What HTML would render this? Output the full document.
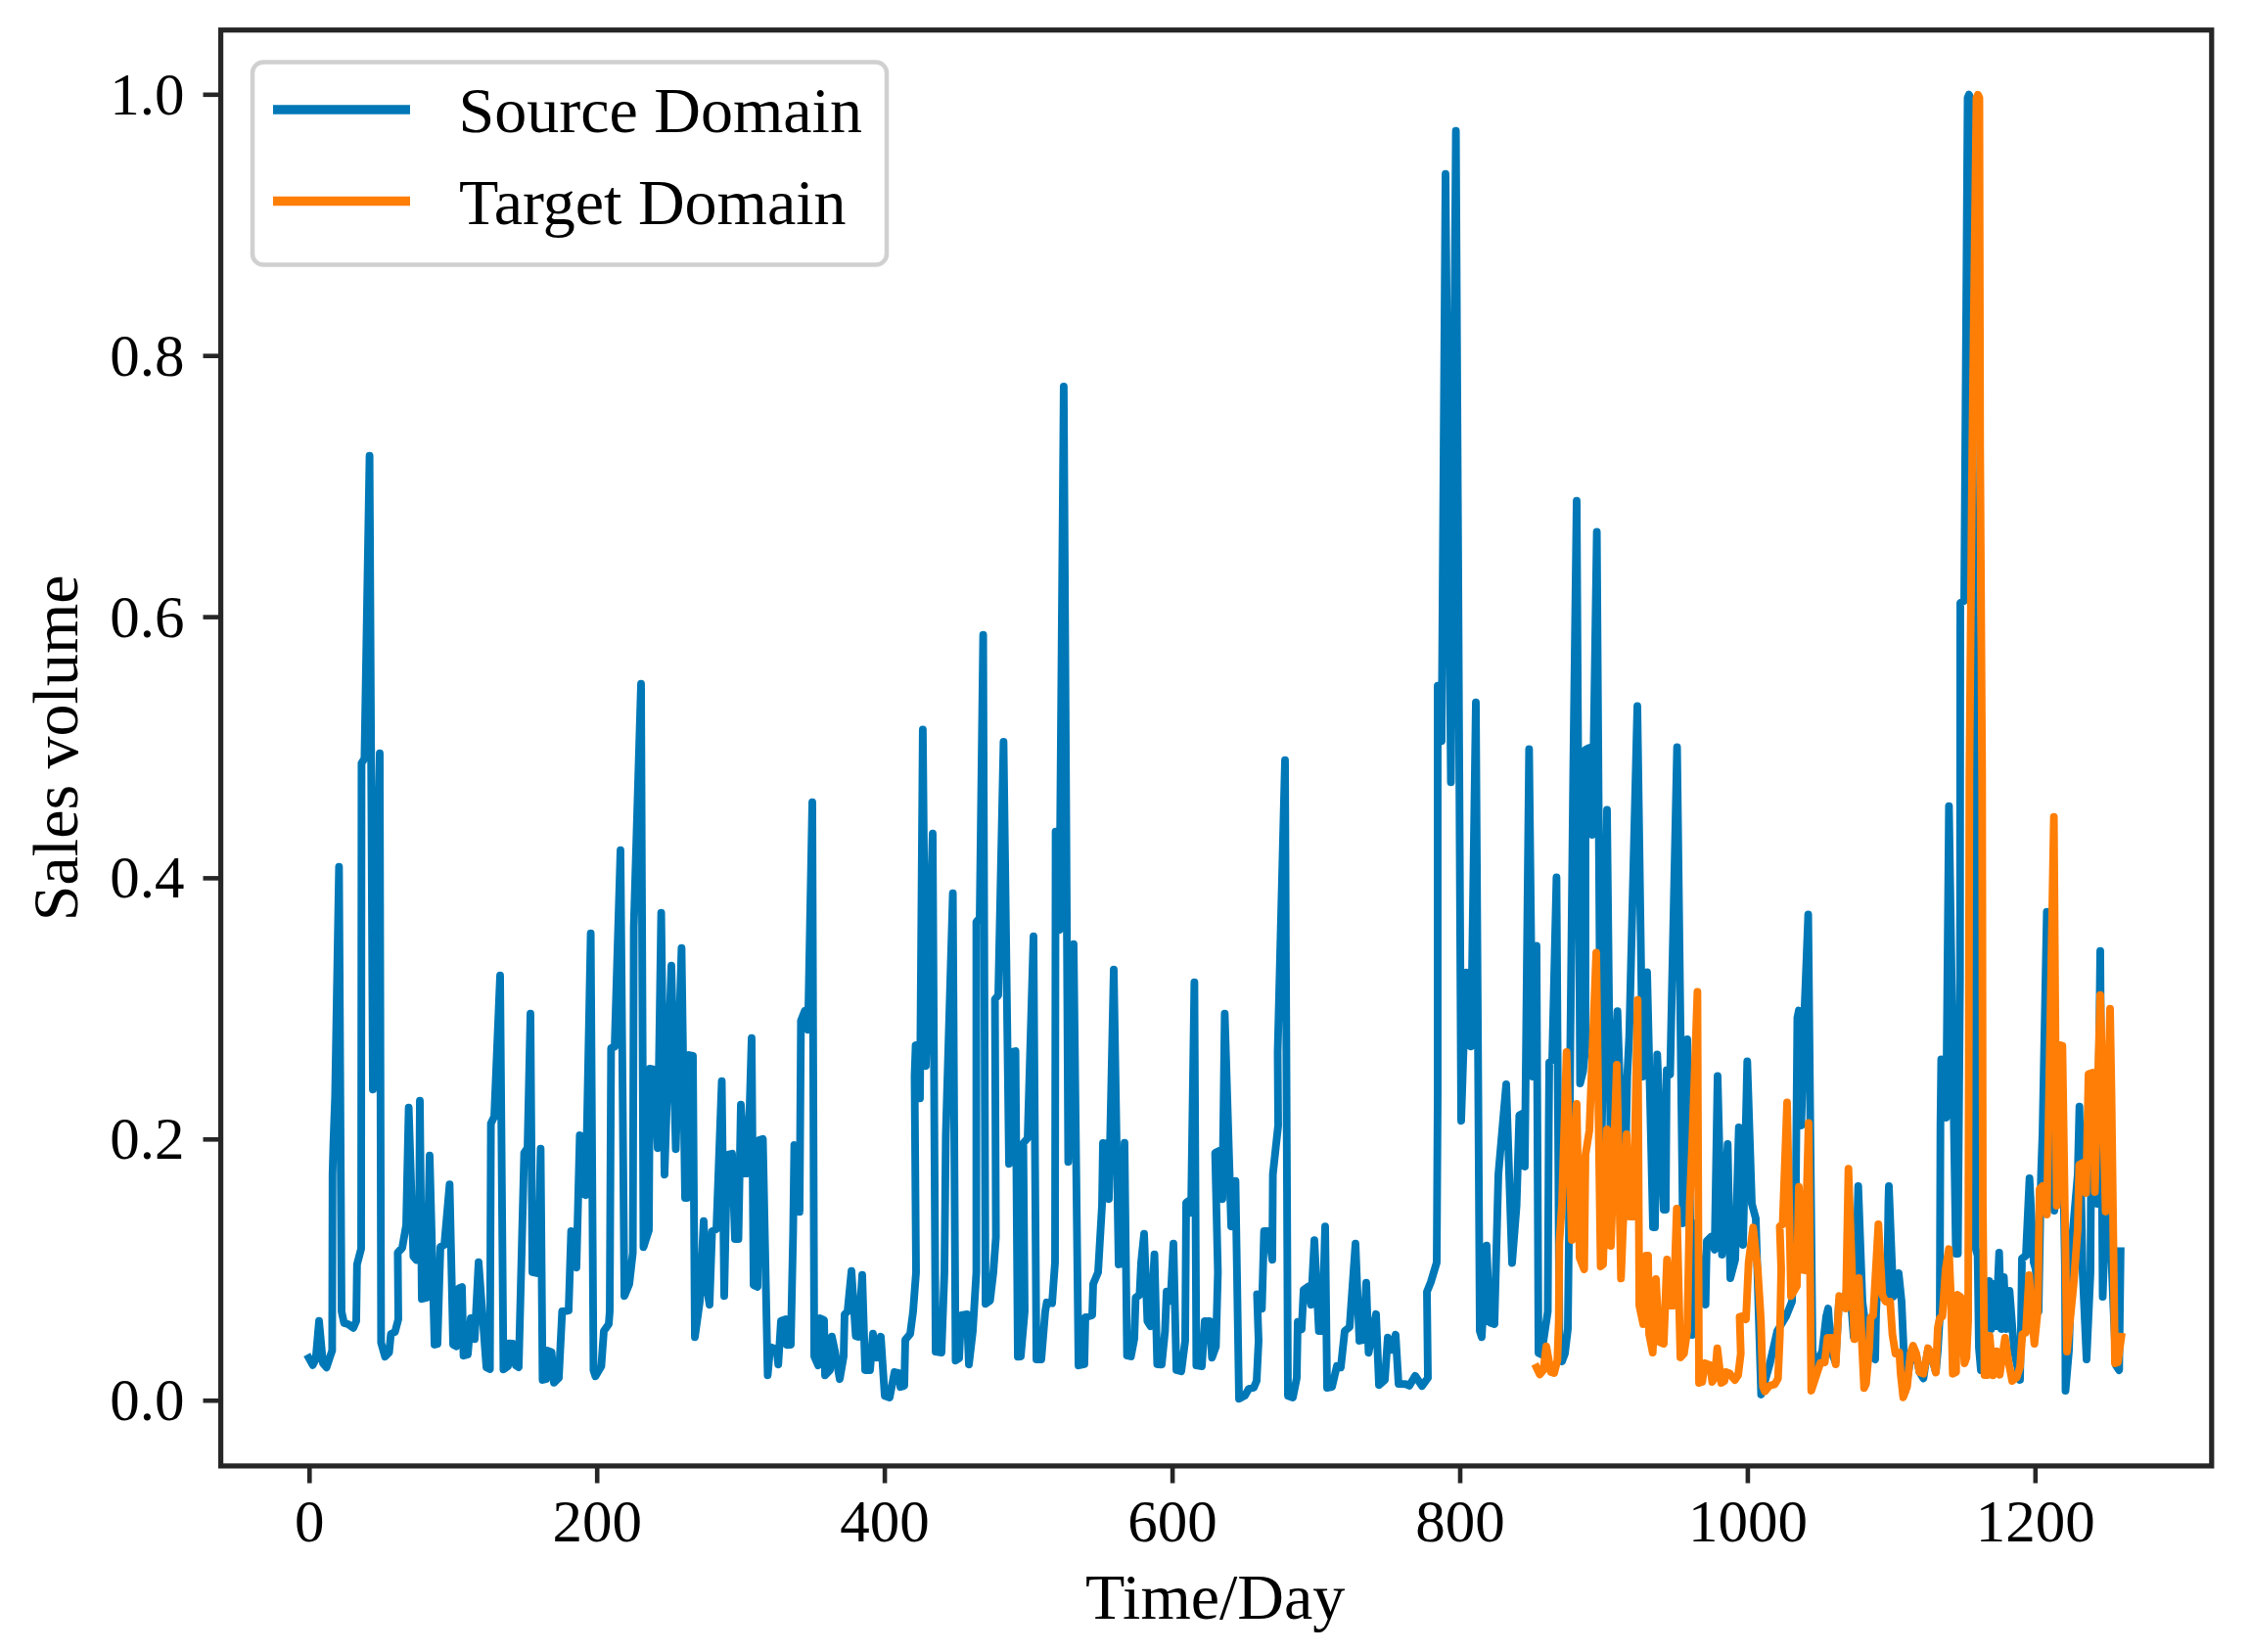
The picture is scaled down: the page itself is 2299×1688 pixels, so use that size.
<!DOCTYPE html>
<html><head><meta charset="utf-8"><title>Sales volume</title>
<style>
html,body{margin:0;padding:0;background:#fff;}
svg{display:block;filter:blur(0.6px);}
text{font-family:"Liberation Serif","Times New Roman",serif;fill:#000;}
.tk{font-size:61px;}
.lb{font-size:66px;}
</style></head><body>
<svg width="2299" height="1688" viewBox="0 0 2299 1688">
<rect x="0" y="0" width="2299" height="1688" fill="#fff"/>
<defs><clipPath id="ax"><rect x="225.6" y="30.7" width="2034.2000000000003" height="1467.2"/></clipPath></defs>

<g clip-path="url(#ax)" fill="none" stroke-linejoin="round" stroke-linecap="square">
<polyline stroke="#0078b7" stroke-width="7.9" points="315.6,1387.6 319.6,1394.8 322.6,1389.0 326.0,1349.8 330.0,1393.0 333.6,1397.2 337.0,1387.0 339.4,1380.0 339.8,1200.0 340.6,1170.0 342.4,1120.0 346.4,885.8 349.0,1340.0 351.6,1352.0 355.6,1353.0 361.0,1356.8 364.0,1350.0 364.8,1292.0 369.0,1276.0 369.4,779.8 372.4,775.2 377.6,465.8 381.0,1113.2 388.0,769.8 389.4,1372.0 393.4,1386.2 397.6,1382.0 399.4,1363.0 403.6,1361.0 407.0,1348.0 406.4,1280.0 411.0,1275.0 415.0,1252.0 417.6,1131.8 422.4,1284.0 425.6,1287.6 428.0,1287.6 429.0,1124.8 431.0,1327.2 436.0,1326.0 439.0,1180.8 444.0,1374.0 447.0,1373.2 450.0,1274.0 454.0,1272.0 459.4,1210.2 463.0,1374.0 466.4,1375.6 469.0,1316.4 472.0,1315.0 473.6,1385.2 478.0,1384.0 481.0,1347.0 483.6,1346.8 485.0,1368.2 489.0,1289.8 497.0,1397.2 500.6,1399.0 501.6,1148.0 505.0,1141.0 511.0,996.8 514.4,1399.2 519.0,1396.0 520.0,1372.8 524.0,1373.0 527.0,1395.2 530.0,1397.0 535.6,1178.0 539.0,1173.0 542.0,1035.8 544.0,1300.0 550.0,1301.2 552.4,1173.8 554.4,1410.0 558.0,1409.2 559.0,1380.0 563.6,1381.8 566.0,1412.8 571.0,1408.0 574.4,1340.0 577.0,1339.8 581.0,1339.2 583.6,1258.0 587.6,1259.2 589.0,1295.2 592.4,1160.0 596.4,1161.8 598.4,1221.2 603.6,953.8 606.4,1400.0 608.4,1406.2 614.4,1396.0 617.0,1360.0 622.0,1353.0 623.0,1340.0 624.4,1071.0 628.0,1069.6 634.0,868.8 638.0,1324.2 643.0,1312.0 646.6,1280.0 647.6,947.0 655.0,698.8 657.5,1274.2 663.0,1257.0 664.0,1092.0 668.5,1092.8 672.0,1173.2 675.6,932.8 679.0,1200.2 686.0,986.8 690.5,1174.2 696.4,968.8 700.0,1224.0 702.0,1224.0 704.0,1078.0 708.0,1078.8 710.0,1366.2 715.0,1330.0 719.0,1247.8 722.4,1318.0 725.0,1333.2 727.6,1258.0 732.0,1256.0 737.5,1104.8 740.0,1324.2 743.0,1180.0 748.0,1178.8 751.0,1266.0 754.5,1266.0 757.0,1128.8 761.0,1199.0 764.0,1199.0 768.0,1060.8 770.0,1313.2 774.0,1315.0 775.5,1165.0 779.5,1163.8 784.4,1405.2 787.0,1376.4 793.6,1378.8 795.2,1394.2 798.0,1349.8 803.0,1348.0 804.0,1374.2 808.0,1374.0 810.4,1260.0 811.6,1170.0 815.6,1171.8 817.0,1238.2 818.4,1043.0 822.4,1032.8 825.6,1052.2 830.0,819.8 832.0,1386.0 836.0,1395.2 838.0,1347.0 842.0,1348.8 843.0,1405.2 848.0,1400.0 850.0,1365.8 853.0,1380.0 858.0,1409.2 862.0,1386.0 863.0,1343.0 866.0,1340.0 870.0,1298.8 874.4,1365.2 877.0,1366.0 881.0,1302.8 884.0,1400.0 889.0,1400.0 892.0,1362.8 896.0,1387.2 900.0,1365.8 904.0,1426.2 909.0,1428.0 914.0,1402.0 918.0,1402.8 920.0,1417.2 924.0,1416.0 925.0,1369.0 930.0,1363.0 933.0,1340.0 936.0,1300.0 934.5,1100.0 935.6,1068.0 940.0,1066.8 940.0,1122.2 942.9,745.5 946.0,1089.2 953.0,851.8 956.0,1381.2 962.0,1382.0 965.0,1300.0 966.4,1160.0 973.6,912.8 976.4,1390.2 980.0,1388.0 982.0,1343.8 988.0,1343.0 990.0,1394.2 994.0,1360.0 997.6,1300.0 997.6,942.0 1001.0,938.0 1004.6,648.7 1007.0,1332.2 1011.6,1329.0 1015.0,1300.0 1017.6,1264.0 1016.6,1021.0 1020.0,1017.0 1025.4,758.0 1031.0,1189.2 1034.0,1074.8 1037.6,1074.0 1040.0,1386.2 1043.0,1386.0 1047.0,1340.0 1045.6,1168.0 1050.0,1163.0 1056.0,956.8 1059.0,1389.0 1064.0,1389.0 1068.0,1340.0 1069.6,1330.8 1075.0,1331.6 1078.0,1290.0 1078.6,849.8 1082.4,950.2 1086.9,394.9 1091.5,1187.2 1097.0,964.8 1102.0,1395.2 1108.0,1394.0 1109.0,1346.0 1116.0,1344.0 1117.0,1312.0 1122.0,1300.0 1126.0,1232.0 1127.0,1168.0 1132.0,1168.8 1133.0,1225.2 1138.0,990.8 1143.0,1292.0 1147.0,1291.2 1149.0,1167.8 1151.6,1385.2 1155.6,1386.0 1159.0,1368.0 1160.4,1326.0 1164.4,1323.0 1166.0,1290.0 1169.0,1260.8 1172.4,1350.0 1175.6,1355.2 1179.6,1281.8 1182.4,1394.0 1187.0,1394.2 1190.4,1360.0 1192.0,1319.8 1196.0,1329.2 1199.0,1270.8 1202.0,1400.0 1207.0,1401.2 1211.0,1370.0 1212.0,1229.0 1215.0,1226.8 1217.0,1239.2 1220.4,1003.8 1222.4,1395.2 1228.0,1396.0 1231.0,1350.0 1236.0,1350.0 1238.4,1387.2 1242.4,1376.0 1244.4,1300.0 1241.6,1178.0 1246.0,1175.8 1249.0,1225.2 1251.4,1035.8 1258.0,1253.2 1262.4,1206.8 1266.0,1429.2 1272.0,1426.0 1276.0,1419.0 1281.0,1418.0 1284.0,1411.0 1286.0,1370.0 1284.4,1322.4 1288.0,1323.8 1289.4,1337.2 1291.6,1258.0 1296.0,1258.0 1300.0,1287.2 1300.6,1200.0 1306.0,1150.0 1305.5,1075.0 1313.0,776.8 1316.0,1426.2 1321.0,1428.0 1325.0,1408.0 1326.0,1350.8 1330.0,1358.2 1332.0,1318.0 1337.0,1314.4 1339.6,1333.2 1343.0,1267.2 1347.6,1360.0 1351.0,1360.0 1354.0,1253.2 1356.0,1418.0 1361.0,1417.2 1366.0,1395.8 1370.0,1397.2 1374.0,1360.0 1379.0,1356.0 1385.0,1270.8 1389.0,1370.0 1393.0,1369.2 1396.0,1310.8 1398.4,1382.2 1406.0,1342.8 1409.0,1415.2 1415.0,1410.0 1418.0,1366.8 1422.0,1379.2 1426.0,1363.8 1429.0,1414.0 1436.0,1414.2 1440.0,1416.0 1446.0,1405.8 1453.0,1416.2 1459.0,1408.0 1458.0,1320.0 1462.0,1310.0 1468.0,1290.0 1469.0,1120.0 1469.0,700.8 1473.0,757.2 1477.0,177.8 1482.5,799.2 1487.6,133.8 1493.0,1145.2 1498.0,993.8 1503.0,1069.2 1508.0,717.8 1512.0,1360.0 1514.0,1366.2 1519.0,1272.8 1522.0,1351.2 1527.0,1353.0 1531.0,1200.0 1539.0,1108.0 1545.0,1290.5 1549.6,1232.0 1552.4,1139.5 1556.4,1137.5 1558.0,1192.0 1562.4,765.5 1566.0,1100.0 1570.0,966.5 1572.0,1382.5 1575.0,1384.0 1581.5,1340.0 1582.5,1150.0 1583.0,1085.5 1586.0,1083.0 1590.4,896.5 1593.5,1388.0 1596.0,1391.0 1599.0,1383.0 1602.0,1358.0 1603.0,1270.0 1604.5,1070.0 1607.5,790.0 1611.0,511.6 1614.5,1107.0 1617.5,1095.0 1620.0,1070.0 1620.0,766.0 1624.0,764.0 1627.0,853.0 1631.6,543.5 1636.0,1200.0 1642.0,827.5 1645.5,1160.0 1652.7,1033.3 1658.0,1200.0 1661.5,1160.0 1662.7,1100.0 1664.7,1059.0 1673.0,721.5 1678.5,1100.0 1683.0,993.5 1689.0,1254.0 1691.0,1254.0 1693.3,1077.5 1700.0,1236.0 1702.0,1236.0 1703.0,1093.5 1706.5,1098.0 1713.6,763.5 1719.5,1250.0 1724.0,1062.0 1729.0,1364.0 1733.0,1250.0 1737.0,1300.0 1742.7,1333.0 1744.0,1268.0 1748.0,1264.0 1752.0,1277.0 1755.0,1099.5 1759.5,1282.0 1765.3,1169.0 1768.0,1306.0 1773.0,1287.0 1776.7,1152.0 1781.0,1272.0 1785.3,1084.5 1790.0,1230.0 1794.0,1245.0 1799.5,1425.0 1808.0,1395.0 1816.0,1360.0 1825.0,1345.0 1831.0,1330.0 1835.0,1210.0 1836.5,1040.0 1838.0,1032.5 1840.5,1150.0 1843.5,1040.0 1847.6,934.5 1852.0,1380.0 1856.0,1398.0 1862.0,1380.0 1866.0,1345.0 1868.0,1337.0 1871.0,1380.0 1875.5,1392.0 1879.0,1330.0 1885.0,1335.0 1889.0,1300.0 1894.0,1366.0 1896.5,1300.0 1898.7,1212.0 1903.0,1330.0 1910.0,1385.0 1916.0,1389.0 1917.0,1340.0 1919.3,1290.0 1923.3,1325.0 1927.0,1328.0 1928.5,1300.0 1929.5,1230.0 1930.0,1212.0 1934.5,1325.0 1937.0,1320.0 1940.0,1301.0 1943.0,1330.0 1947.0,1421.0 1951.0,1395.0 1954.7,1378.0 1958.0,1385.0 1961.3,1402.0 1965.3,1408.5 1968.0,1390.0 1970.0,1380.0 1973.3,1385.0 1978.0,1402.0 1980.0,1380.0 1982.0,1346.0 1982.7,1150.0 1983.5,1082.5 1988.5,1142.0 1991.4,823.6 1998.5,1281.0 2000.5,1281.0 2002.7,1000.0 2003.0,616.0 2007.0,614.0 2010.5,100.0 2011.8,96.7 2013.0,100.0 2018.0,790.0 2018.7,1275.7 2020.7,1283.0 2022.0,1377.0 2024.0,1400.0 2029.0,1330.0 2032.5,1309.0 2034.5,1358.0 2037.0,1312.0 2039.5,1355.0 2042.7,1280.0 2045.0,1358.0 2047.5,1305.0 2050.0,1358.0 2053.3,1319.0 2058.0,1380.0 2064.0,1410.0 2065.0,1356.0 2066.0,1286.0 2070.0,1283.0 2073.7,1204.0 2078.0,1290.0 2080.0,1297.0 2083.0,1340.0 2085.5,1200.0 2087.0,1158.0 2091.4,931.6 2095.0,1150.0 2099.0,1237.0 2103.0,1200.0 2108.0,1180.0 2110.0,1300.0 2110.5,1421.0 2114.0,1380.0 2116.5,1300.0 2117.5,1263.0 2123.0,1200.0 2124.7,1130.7 2128.0,1300.0 2132.0,1389.0 2136.0,1300.0 2136.4,1225.0 2139.0,1150.0 2143.0,1230.0 2146.0,971.6 2148.5,1325.0 2151.0,1250.0 2154.0,1180.0 2158.0,1300.0 2162.0,1395.0 2165.3,1400.0 2166.8,1278.5"/>
<polyline stroke="#ff7e06" stroke-width="7.9" points="1570.0,1397.3 1573.3,1404.4 1577.0,1400.0 1580.0,1375.6 1584.7,1402.0 1588.0,1403.0 1591.3,1390.0 1592.7,1350.0 1593.3,1270.0 1596.0,1230.0 1600.7,1075.0 1606.0,1267.0 1611.0,1128.0 1614.0,1285.0 1618.7,1297.0 1620.0,1180.0 1624.0,1155.0 1631.0,973.5 1635.5,1294.0 1638.0,1292.0 1642.0,1154.0 1646.0,1273.0 1652.0,1088.0 1656.3,1306.4 1662.0,1159.0 1665.0,1243.0 1669.0,1243.0 1673.3,1021.6 1675.0,1334.0 1679.0,1353.0 1682.0,1283.0 1684.0,1283.0 1685.0,1363.0 1688.7,1382.0 1692.0,1307.0 1695.3,1371.0 1700.0,1373.0 1703.3,1287.0 1706.7,1334.0 1710.0,1334.0 1713.3,1235.0 1717.0,1387.0 1720.7,1383.0 1724.0,1360.0 1726.5,1230.0 1729.0,1170.0 1734.4,1013.5 1736.0,1413.0 1739.3,1412.0 1742.0,1393.0 1747.5,1395.0 1749.5,1412.0 1752.0,1408.0 1754.7,1377.6 1758.7,1413.0 1762.0,1411.0 1763.5,1402.0 1767.5,1403.5 1770.0,1407.0 1772.7,1410.0 1776.0,1405.0 1778.7,1383.0 1777.5,1345.6 1782.0,1344.3 1784.0,1348.0 1786.7,1290.0 1791.3,1254.3 1796.0,1296.7 1799.3,1350.0 1801.3,1416.7 1803.3,1421.7 1808.0,1416.0 1813.3,1414.4 1816.7,1408.7 1818.7,1363.0 1820.0,1296.7 1818.5,1253.0 1821.5,1251.0 1826.0,1126.5 1830.0,1324.4 1836.0,1314.0 1838.0,1212.6 1842.0,1297.5 1844.0,1298.0 1848.0,1147.5 1850.7,1421.0 1860.0,1392.7 1864.5,1392.0 1867.3,1367.0 1872.0,1367.0 1875.7,1394.0 1879.3,1324.3 1883.0,1326.0 1886.0,1337.0 1888.7,1194.3 1894.7,1368.4 1899.3,1306.0 1904.7,1418.4 1906.7,1414.0 1910.0,1376.7 1911.3,1346.3 1914.0,1344.0 1916.7,1296.7 1919.3,1251.0 1923.3,1323.3 1926.7,1330.0 1931.3,1330.0 1933.6,1363.3 1936.7,1383.0 1940.7,1382.0 1942.0,1403.0 1944.7,1427.7 1948.7,1416.7 1952.0,1383.3 1954.7,1375.0 1958.0,1383.0 1961.3,1402.0 1965.3,1403.7 1968.0,1390.0 1970.0,1377.6 1973.3,1383.0 1978.0,1402.4 1980.0,1356.7 1982.0,1347.0 1984.7,1345.0 1988.0,1296.7 1991.3,1276.3 1993.3,1323.3 1995.3,1403.7 1998.7,1402.0 1999.3,1323.3 2000.0,1323.0 2003.3,1325.3 2005.3,1363.3 2007.3,1393.0 2009.3,1387.3 2011.0,1350.0 2011.3,1230.0 2012.3,790.0 2015.2,460.0 2019.5,100.0 2021.0,96.8 2022.5,100.0 2023.3,460.0 2025.3,790.0 2026.0,1230.0 2027.7,1405.0 2030.7,1405.0 2033.0,1365.0 2036.3,1405.3 2040.0,1380.7 2043.3,1404.7 2048.7,1367.0 2052.0,1390.0 2056.0,1411.0 2060.7,1407.3 2064.0,1396.7 2066.4,1363.3 2070.0,1361.6 2073.3,1303.0 2076.7,1350.0 2078.7,1373.0 2082.0,1340.0 2084.0,1215.0 2087.0,1212.0 2091.5,1241.0 2098.6,834.6 2101.5,1232.0 2105.5,1068.0 2107.3,1068.5 2112.0,1381.0 2116.0,1340.0 2119.0,1310.0 2123.0,1255.0 2124.5,1190.0 2128.5,1188.0 2131.5,1219.0 2134.0,1097.5 2138.5,1096.0 2140.5,1218.0 2146.0,1016.6 2151.5,1238.0 2156.0,1030.6 2157.5,1120.0 2161.0,1393.0 2164.0,1392.0 2167.5,1366.0"/>
</g>
<g stroke="#262626" stroke-width="4.6" fill="none">
<line x1="316.3" y1="1497.9" x2="316.3" y2="1515.5"/>
<line x1="610.2" y1="1497.9" x2="610.2" y2="1515.5"/>
<line x1="904.1" y1="1497.9" x2="904.1" y2="1515.5"/>
<line x1="1198.1" y1="1497.9" x2="1198.1" y2="1515.5"/>
<line x1="1492.0" y1="1497.9" x2="1492.0" y2="1515.5"/>
<line x1="1785.9" y1="1497.9" x2="1785.9" y2="1515.5"/>
<line x1="2079.8" y1="1497.9" x2="2079.8" y2="1515.5"/>
<line x1="225.6" y1="1431.2" x2="207.5" y2="1431.2"/>
<line x1="225.6" y1="1164.3" x2="207.5" y2="1164.3"/>
<line x1="225.6" y1="897.4" x2="207.5" y2="897.4"/>
<line x1="225.6" y1="630.6" x2="207.5" y2="630.6"/>
<line x1="225.6" y1="363.7" x2="207.5" y2="363.7"/>
<line x1="225.6" y1="96.8" x2="207.5" y2="96.8"/>
</g>
<rect x="225.6" y="30.7" width="2034.2000000000003" height="1467.2" fill="none" stroke="#262626" stroke-width="5.2"/>
<text class="tk" x="316.3" y="1574.5" text-anchor="middle">0</text>
<text class="tk" x="610.2" y="1574.5" text-anchor="middle">200</text>
<text class="tk" x="904.1" y="1574.5" text-anchor="middle">400</text>
<text class="tk" x="1198.1" y="1574.5" text-anchor="middle">600</text>
<text class="tk" x="1492.0" y="1574.5" text-anchor="middle">800</text>
<text class="tk" x="1785.9" y="1574.5" text-anchor="middle">1000</text>
<text class="tk" x="2079.8" y="1574.5" text-anchor="middle">1200</text>
<text class="tk" x="188.5" y="1451.2" text-anchor="end">0.0</text>
<text class="tk" x="188.5" y="1184.3" text-anchor="end">0.2</text>
<text class="tk" x="188.5" y="917.4" text-anchor="end">0.4</text>
<text class="tk" x="188.5" y="650.6" text-anchor="end">0.6</text>
<text class="tk" x="188.5" y="383.7" text-anchor="end">0.8</text>
<text class="tk" x="188.5" y="116.8" text-anchor="end">1.0</text>
<text class="lb" x="1241.7" y="1654" text-anchor="middle">Time/Day</text>
<text class="lb" transform="translate(79,764.3) rotate(-90)" text-anchor="middle">Sales volume</text>
<rect x="258" y="63.5" width="648" height="207" rx="11" ry="11" fill="#fff" fill-opacity="0.8" stroke="#d0d0d0" stroke-width="4.5"/>
<line x1="279" y1="112" x2="419" y2="112" stroke="#0078b7" stroke-width="9.5"/>
<line x1="279" y1="205.6" x2="419" y2="205.6" stroke="#ff7e06" stroke-width="9.5"/>
<text class="lb" x="468.5" y="135.2">Source Domain</text>
<text class="lb" x="469" y="228.7">Target Domain</text>
</svg></body></html>
